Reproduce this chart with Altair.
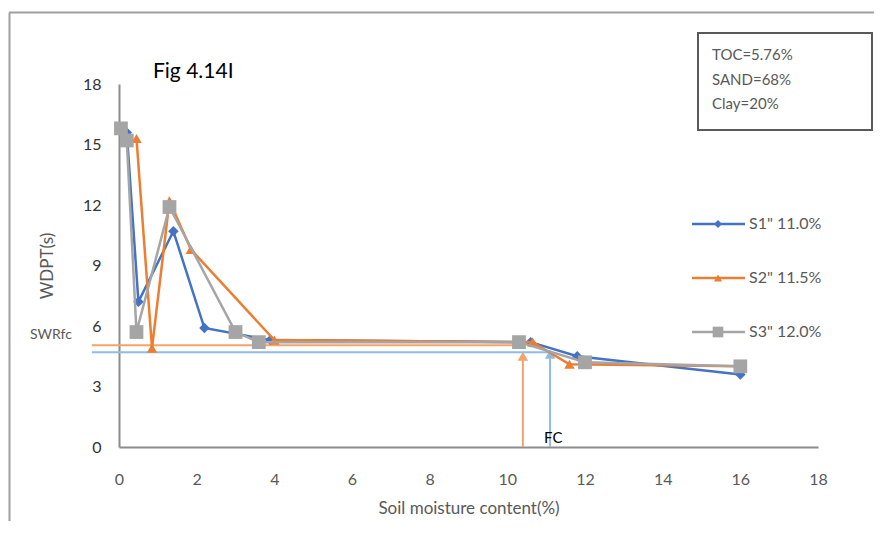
import altair as alt
import pandas as pd

# ---- data ----
s1_x = [0.2, 0.5, 1.4, 2.2, 3.9, 10.6, 11.8, 16.0]
s1_y = [15.6, 7.2, 10.7, 5.9, 5.3, 5.2, 4.5, 3.6]
s2_x = [0.45, 0.85, 1.3, 1.85, 4.0, 10.65, 11.6, 16.0]
s2_y = [15.3, 4.9, 12.2, 9.8, 5.3, 5.2, 4.1, 4.0]
s3_x = [0.05, 0.2, 0.45, 1.3, 3.0, 3.6, 10.3, 12.0, 16.0]
s3_y = [15.8, 15.2, 5.7, 11.9, 5.7, 5.2, 5.2, 4.2, 4.0]
series_names = ['S1" 11.0%', 'S2" 11.5%', 'S3" 12.0%']
series_colors = ["#4472C4", "#ED7D31", "#A5A5A5"]
series_shapes = ["diamond", "triangle-up", "square"]
series_sizes = [110, 110, 190]

# reference lines: SWRfc (horizontal) and FC (vertical)
ref_colors = ["#F4A46A", "#8FBCE6"]
ref_h_y = [5.05, 4.7]
ref_h_x0 = [-0.7, -0.7]
ref_v_x = [10.4, 11.1]
ref_v_top = [4.5, 4.6]

info_lines = ["TOC=5.76%", "SAND=68%", "Clay=20%"]
x_ticks = list(range(0, 19, 2))
y_ticks = list(range(0, 19, 3))

FONT = "Lato"
GREY_TXT = "#595959"

xs = alt.Scale(domain=[0, 18], nice=False)
ys = alt.Scale(domain=[0, 18], nice=False)
xax = alt.Axis(values=x_ticks, title="Soil moisture content(%)", grid=False, ticks=False,
               labelFlush=False,
               domainColor="#8C8C8C", domainWidth=2, labelFontSize=16, labelColor=GREY_TXT,
               labelFont=FONT, labelPadding=24, titleFont=FONT, titleFontSize=17,
               titleFontWeight="normal", titleColor=GREY_TXT, titlePadding=13)
yax = alt.Axis(values=y_ticks, title="WDPT(s)", grid=False, ticks=False,
               labelFlush=False,
               domainColor="#8C8C8C", domainWidth=2, labelFontSize=16, labelColor="#333333",
               labelFont=FONT, labelPadding=18, titleFont=FONT, titleFontSize=17,
               titleFontWeight="normal", titleColor=GREY_TXT, titlePadding=26)

layers = []

# reference lines
for i in range(2):
    dh = pd.DataFrame({"x": [ref_h_x0[i]], "x2": [ref_v_x[i]], "y": [ref_h_y[i]]})
    layers.append(alt.Chart(dh).mark_rule(color=ref_colors[i], strokeWidth=2, clip=False).encode(
        x=alt.X("x:Q", scale=xs, axis=xax), x2="x2:Q", y=alt.Y("y:Q", scale=ys, axis=yax)))
    dv = pd.DataFrame({"x": [ref_v_x[i]], "y": [0], "y2": [ref_v_top[i]]})
    layers.append(alt.Chart(dv).mark_rule(color=ref_colors[i], strokeWidth=2).encode(
        x=alt.X("x:Q", scale=xs), y=alt.Y("y:Q", scale=ys), y2="y2:Q"))
    layers.append(alt.Chart(dv).mark_point(shape="triangle-up", filled=True, opacity=1,
                                           size=110, color=ref_colors[i]).encode(
        x=alt.X("x:Q", scale=xs), y=alt.Y("y2:Q", scale=ys)))

# series
for xs_, ys_, name, col, shp, sz in zip([s1_x, s2_x, s3_x], [s1_y, s2_y, s3_y],
                                        series_names, series_colors, series_shapes, series_sizes):
    d = pd.DataFrame({"x": xs_, "y": ys_, "order": list(range(len(xs_)))})
    layers.append(alt.Chart(d).mark_line(color=col, strokeWidth=2.5).encode(
        x=alt.X("x:Q", scale=xs), y=alt.Y("y:Q", scale=ys), order="order:Q"))
    layers.append(alt.Chart(d).mark_point(shape=shp, filled=True, opacity=1, size=sz, color=col).encode(
        x=alt.X("x:Q", scale=xs), y=alt.Y("y:Q", scale=ys)))

# manual legend (pixel positions relative to plot origin)
leg_y = [140, 194, 248]
for name, col, shp, sz, ly in zip(series_names, series_colors, series_shapes, series_sizes, leg_y):
    d = pd.DataFrame({"t": [name]})
    layers.append(alt.Chart(d).mark_rule(color=col, strokeWidth=2.5).encode(
        x=alt.value(573), x2=alt.value(626), y=alt.value(ly)))
    layers.append(alt.Chart(d).mark_point(shape=shp, filled=True, opacity=1,
                                          size=sz * 0.6, color=col).encode(
        x=alt.value(599), y=alt.value(ly)))
    layers.append(alt.Chart(d).mark_text(align="left", baseline="middle", font=FONT,
                                         fontSize=16, color=GREY_TXT).encode(
        x=alt.value(630), y=alt.value(ly), text="t:N"))

# info box
dbox = pd.DataFrame({"t": [""]})
layers.append(alt.Chart(dbox).mark_rect(fill="white", stroke="#595959", strokeWidth=2).encode(
    x=alt.value(579), x2=alt.value(753), y=alt.value(-51), y2=alt.value(46)))
for i, line in enumerate(info_lines):
    layers.append(alt.Chart(pd.DataFrame({"t": [line]})).mark_text(
        align="left", baseline="middle", font=FONT, fontSize=15, color=GREY_TXT).encode(
        x=alt.value(593), y=alt.value(-29 + 24.5 * i), text="t:N"))

# title-like label and annotations
layers.append(alt.Chart(pd.DataFrame({"t": ["Fig 4.14I"]})).mark_text(
    align="left", baseline="middle", font=FONT, fontSize=21, color="#000000").encode(
    x=alt.value(34), y=alt.value(-12), text="t:N"))
layers.append(alt.Chart(pd.DataFrame({"t": ["SWRfc"]})).mark_text(
    align="left", baseline="middle", font=FONT, fontSize=14, color=GREY_TXT).encode(
    x=alt.value(-89), y=alt.value(251), text="t:N"))
layers.append(alt.Chart(pd.DataFrame({"t": ["FC"]})).mark_text(
    align="left", baseline="middle", font=FONT, fontSize=15, color="#000000").encode(
    x=alt.value(425), y=alt.value(354), text="t:N"))

# outer frame lines
dfr = pd.DataFrame({"t": [""]})
layers.append(alt.Chart(dfr).mark_rule(color="#A0A0A0", strokeWidth=2).encode(
    x=alt.value(-110), x2=alt.value(770), y=alt.value(-71.5)))
layers.append(alt.Chart(dfr).mark_rule(color="#A0A0A0", strokeWidth=2).encode(
    x=alt.value(-109.5), y=alt.value(-71.5), y2=alt.value(450)))

chart = alt.layer(*layers).properties(
    width=699, height=363,
    autosize=alt.AutoSizeParams(type="none"),
    padding={"left": 111, "top": 76, "right": 56, "bottom": 74},
    background="white",
).configure_view(stroke=None)

chart.save("out.html", embed_options={"renderer": "svg", "actions": False})
